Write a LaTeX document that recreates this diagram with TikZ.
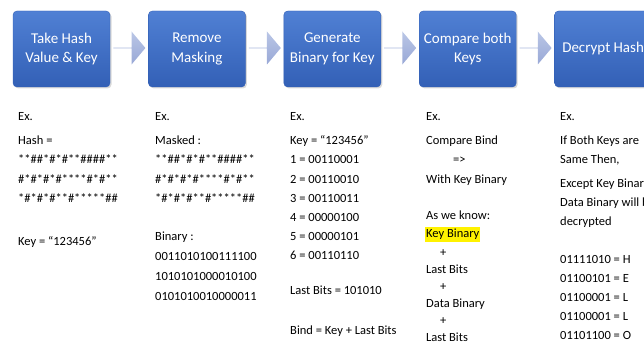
\documentclass[tikz,border=0pt]{standalone}
\usepackage{fontspec}
\setmainfont{Carlito}
\usetikzlibrary{shapes.arrows,shadows,calc}

\definecolor{boxtop}{HTML}{5080D4}
\definecolor{boxbot}{HTML}{3360B6}
\definecolor{arrtop}{HTML}{BAC6E6}
\definecolor{arrbot}{HTML}{98A8D6}

\begin{document}
\begin{tikzpicture}[x=1pt,y=-1pt,
		stepbox/.style={rounded corners=4pt,minimum width=97pt,minimum height=76pt,top color=boxtop,bottom color=boxbot,draw=boxbot,line width=0.4pt,text=white,align=center,font=\fontsize{15}{19.5}\selectfont,drop shadow={opacity=0.3,shadow xshift=1.5pt,shadow yshift=-1.5pt}},
		flow/.style={single arrow,inner sep=0pt,minimum height=32pt,minimum width=33pt,single arrow head extend=7pt,single arrow tip angle=100,top color=arrtop,bottom color=arrbot,draw=none},
		txt/.style={anchor=base west,inner sep=0pt,font=\fontsize{12.5}{15}\selectfont},
		mark yellow/.style={fill=yellow,inner xsep=1pt,inner ysep=1.5pt,text height=9pt,text depth=3pt}]
		\useasboundingbox (0,0) rectangle (644,344);
		\clip (0,0) rectangle (644,344);
		% steps
		\node[stepbox] (take) at (61.5,49) {Take Hash\\Value \& Key};
		\node[stepbox] (remove) at (196.9,49) {Remove\\Masking};
		\node[stepbox] (gen) at (332.3,49) {Generate\\Binary for Key};
		\node[stepbox] (cmp) at (467.7,49) {Compare both\\Keys};
		\node[stepbox] (decrypt) at (603.1,49) {Decrypt Hash};
		% block arrows between the steps
		\node[flow] (f1) at ($(take.east)!0.5!(remove.west)+(0,-1)$) {};
		\node[flow] (f2) at ($(remove.east)!0.5!(gen.west)+(0,-1)$) {};
		\node[flow] (f3) at ($(gen.east)!0.5!(cmp.west)+(0,-1)$) {};
		\node[flow] (f4) at ($(cmp.east)!0.5!(decrypt.west)+(0,-1)$) {};
		% first column
		\node[txt] (ex1) at (18,121) {Ex.};
		\node[txt] (hash) at (18,145) {Hash =};
		\node[txt] (h1) at (18,164) {**\#\#*\#*\#**\#\#\#\#**};
		\node[txt] (h2) at (18,184) {\#*\#*\#*\#****\#*\#**};
		\node[txt] (h3) at (18,203) {*\#*\#*\#**\#*****\#\#};
		\node[txt] (key1) at (18,246) {Key = “123456”};
		% second column
		\node[txt] (ex2) at (155,121) {Ex.};
		\node[txt] (masked) at (155,145) {Masked :};
		\node[txt] (m1) at (155,164) {**\#\#*\#*\#**\#\#\#\#**};
		\node[txt] (m2) at (155,184) {\#*\#*\#*\#****\#*\#**};
		\node[txt] (m3) at (155,203) {*\#*\#*\#**\#*****\#\#};
		\node[txt] (bin) at (155,241) {Binary :};
		\node[txt] (b1) at (155,261) {0011010100111100};
		\node[txt] (b2) at (155,280) {1010101000010100};
		\node[txt] (b3) at (155,300) {0101010010000011};
		% third column
		\node[txt] (ex3) at (290,121) {Ex.};
		\node[txt] (key3) at (290,145) {Key = “123456”};
		\node[txt] (k1) at (290,164) {1 = 00110001};
		\node[txt] (k2) at (290,184) {2 = 00110010};
		\node[txt] (k3) at (290,203) {3 = 00110011};
		\node[txt] (k4) at (290,222) {4 = 00000100};
		\node[txt] (k5) at (290,241) {5 = 00000101};
		\node[txt] (k6) at (290,260) {6 = 00110110};
		\node[txt] (last3) at (290,294) {Last Bits = 101010};
		\node[txt] (bind) at (290,334) {Bind = Key + Last Bits};
		% fourth column
		\node[txt] (ex4) at (426,121) {Ex.};
		\node[txt] (cbind) at (426,145) {Compare Bind};
		\node[txt] (impl) at (453,164) {=>};
		\node[txt] (withkey) at (426,184) {With Key Binary};
		\node[txt] (know) at (426,220) {As we know:};
		\node[txt,mark yellow] (keybin) at (425,238) {Key Binary};
		\node[txt] (p1) at (440,256) {+};
		\node[txt] (lastA) at (426,273) {Last Bits};
		\node[txt] (p2) at (440,290) {+};
		\node[txt] (databin) at (426,307) {Data Binary};
		\node[txt] (p3) at (440,324) {+};
		\node[txt] (lastB) at (426,341) {Last Bits};
		% fifth column
		\node[txt] (ex5) at (560,121) {Ex.};
		\node[txt] (both) at (560,145) {If Both Keys are};
		\node[txt] (same) at (560,164) {Same Then,};
		\node[txt] (except) at (560,188) {Except Key Binary};
		\node[txt] (datawill) at (560,207) {Data Binary will be};
		\node[txt] (decr) at (560,226) {decrypted};
		\node[txt] (cH) at (560,263) {01111010 = H};
		\node[txt] (cE) at (560,282) {01100101 = E};
		\node[txt] (cL1) at (560,301) {01100001 = L};
		\node[txt] (cL2) at (560,320) {01100001 = L};
		\node[txt] (cO) at (560,339) {01101100 = O};
\end{tikzpicture}
\end{document}
